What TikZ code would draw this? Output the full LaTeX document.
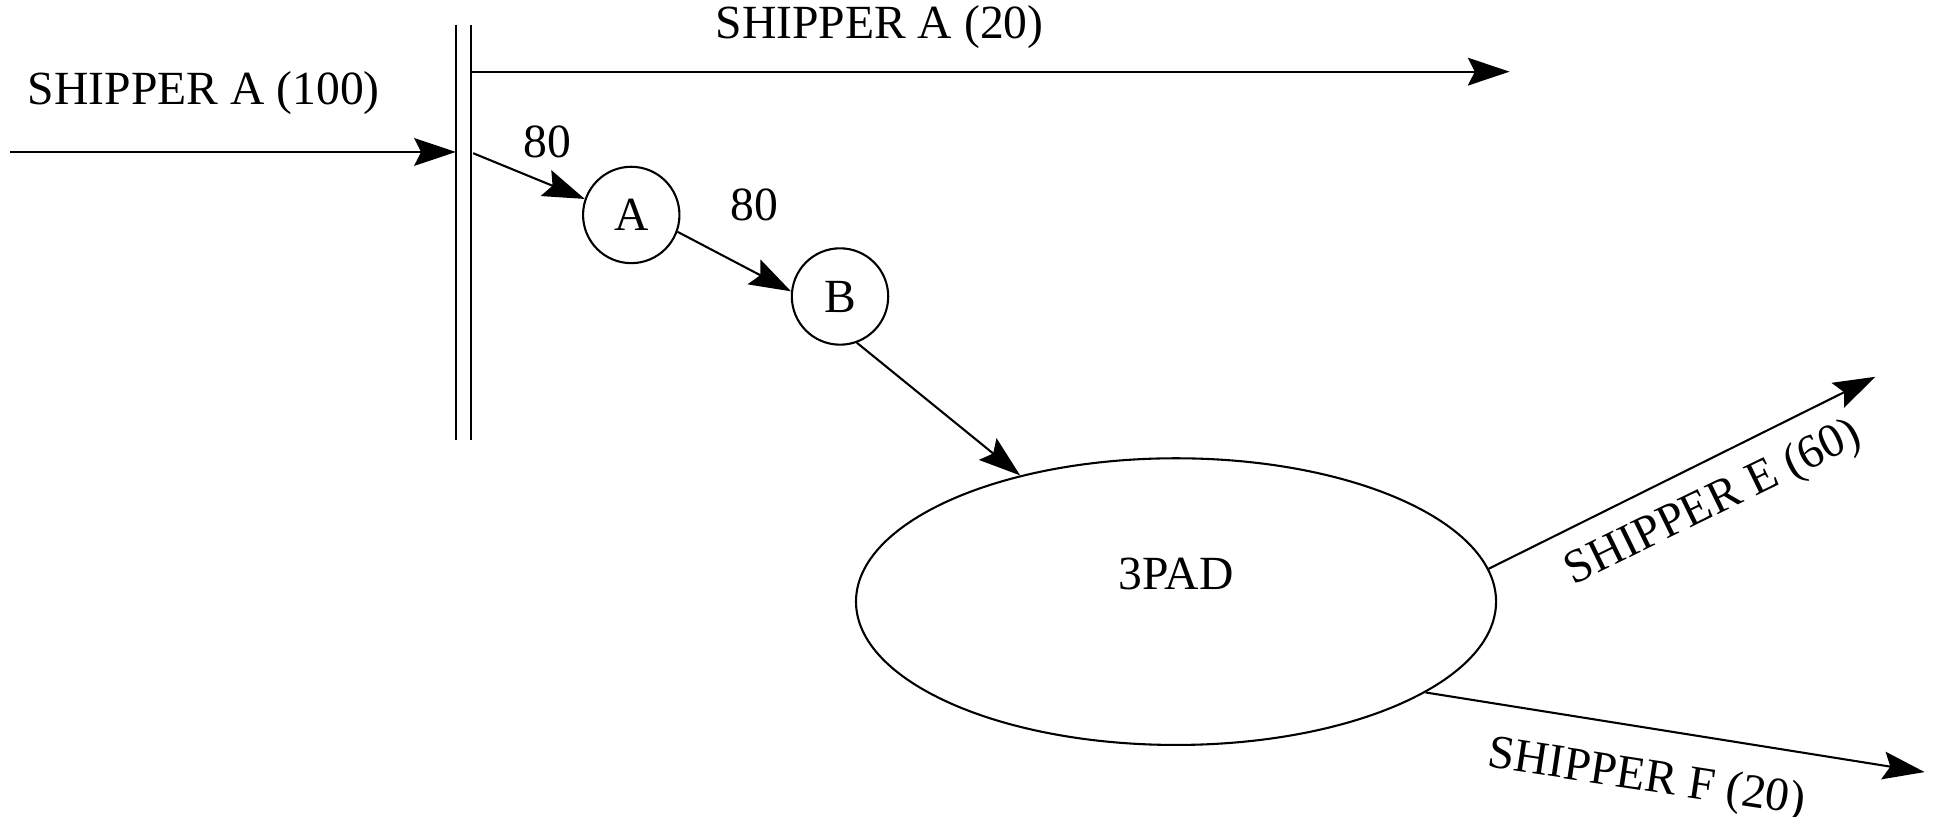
\documentclass[tikz,border=0pt]{standalone}
\usepackage{fontspec}
\setmainfont{Liberation Serif}
\usepackage{tikz}
\usetikzlibrary{arrows.meta,shapes.geometric}
\tikzstyle{Station}=[circle, minimum size=0.975cm, inner sep=0pt, draw=black, line width=0.6pt]
\tikzstyle{Pool}=[ellipse, minimum width=6.475cm, minimum height=2.9cm, inner sep=0pt, draw=black, line width=0.6pt]
\tikzstyle{Flow}=[line width=0.6pt, -{Stealth[length=12pt, width=8pt, inset=2pt]}]

\begin{document}
\begin{tikzpicture}[x=0.0125cm, y=-0.0125cm, font=\fontsize{13.7}{16}\selectfont]
    \useasboundingbox (0,0) rectangle (1568,661);
    \path
    (511,174) node[Station] (A) {A}
    (680,240) node[Station] (B) {B}
    (952,487) node[Pool, label={[yshift=0.275cm]center:3PAD}] (pad) {};

    % allocation point
    \coordinate (barLtop) at (369,20);
    \coordinate (barLbot) at (369,356);
    \coordinate (barRtop) at (381,20);
    \coordinate (barRbot) at (381,356);
    \draw[line width=0.6pt] (barLtop) -- (barLbot);
    \draw[line width=0.6pt] (barRtop) -- (barRbot);

    \coordinate (in) at (8,123);
    \coordinate (inEnd) at (369,123);
    \coordinate (split) at (383,124);
    \coordinate (outA) at (381,58);
    \coordinate (outAEnd) at (1222,58);
    \coordinate (outE) at (1518,305);
    \coordinate (outF) at (1558,625);

    \path
    (165,75) node (inLabel) {SHIPPER A (100)}
    (712,22) node (outALabel) {SHIPPER A (20)}
    (443,115) node (qA) {80}
    (611,166) node (qB) {80}
    (1387,408) node[rotate=26] (outELabel) {SHIPPER E (60)}
    (1333,631) node[rotate=-8.6] (outFLabel) {SHIPPER F (20)};

    \draw[Flow] (in) -- (inEnd);
    \draw[Flow] (outA) -- (outAEnd);
    \draw[Flow] (split) -- (A.161);
    \draw[Flow] (A.-20) -- (B.174);
    \draw[Flow] (B.-70) -- (pad.141);
    \draw[Flow] (pad.6) -- (outE);
    \draw[Flow] (pad.-20.6) -- (outF);
\end{tikzpicture}
\end{document}
